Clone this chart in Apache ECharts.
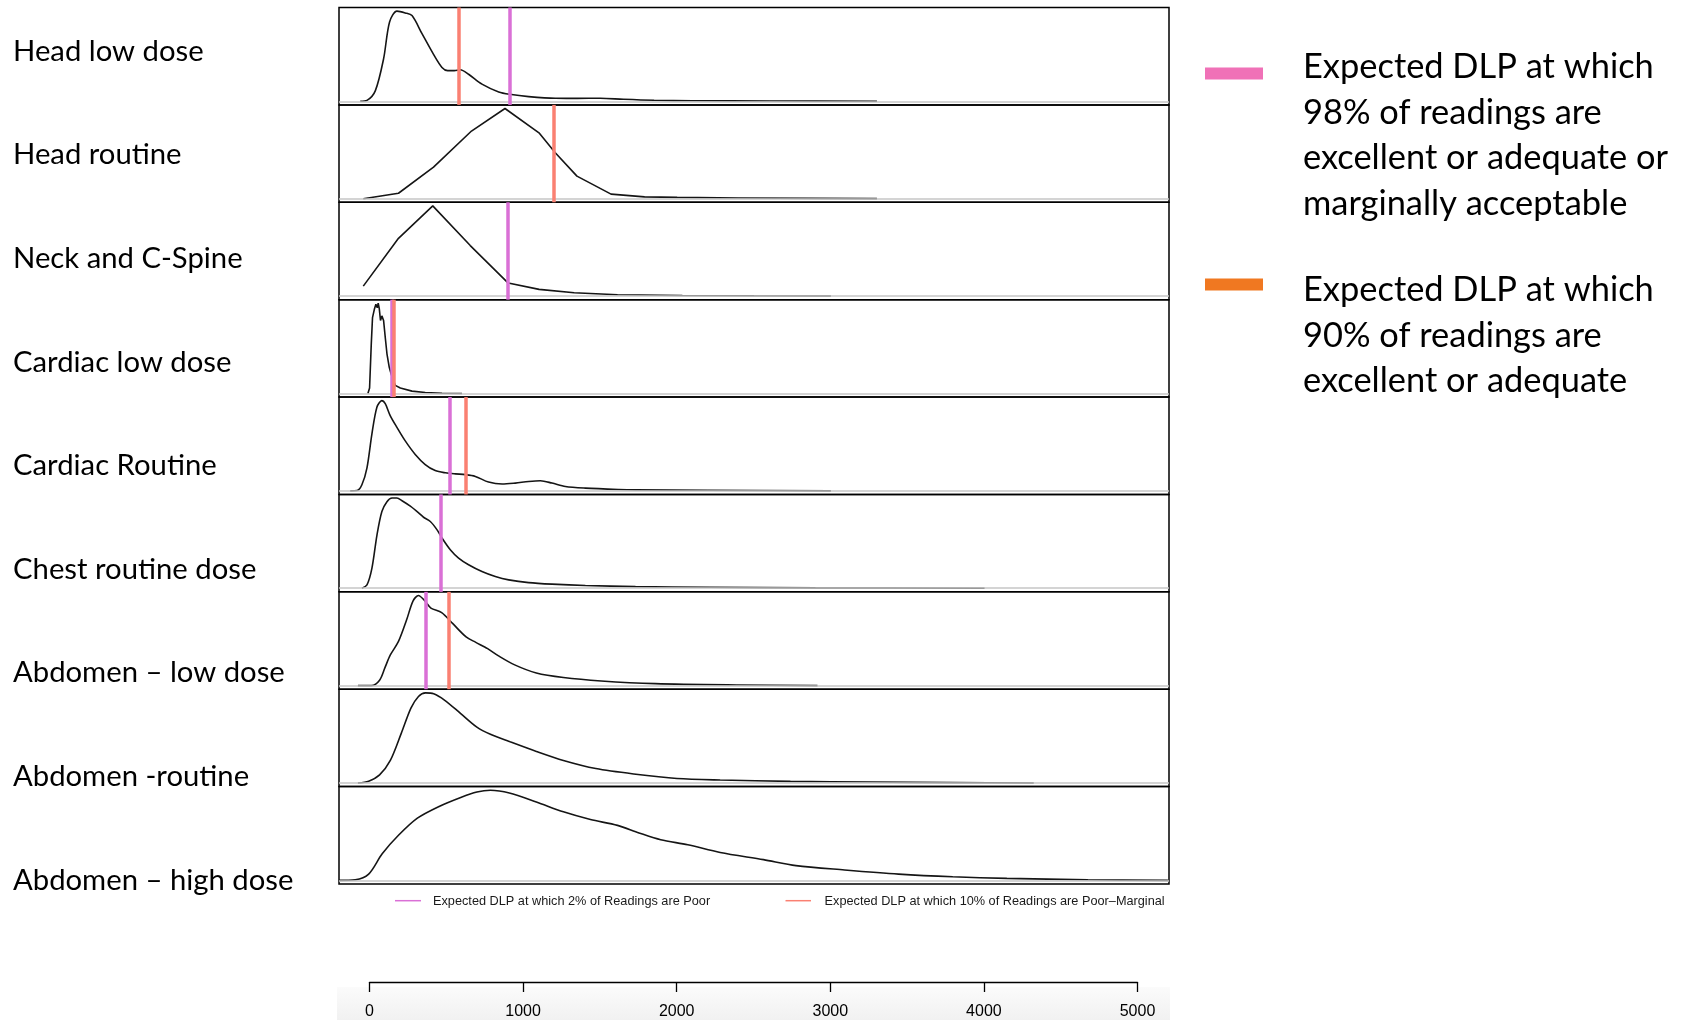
<!DOCTYPE html>
<html>
<head>
<meta charset="utf-8">
<script src="https://cdn.jsdelivr.net/npm/echarts@6/dist/echarts.min.js"></script>
<style>
  html, body { margin: 0; padding: 0; background: #ffffff; }
  #chart { width: 1691px; height: 1020px; }
</style>
</head>
<body>
<div id="chart"></div>
<script>
// ---------------- DATA ----------------
const categories = [
  'Head low dose', 'Head routine', 'Neck and C-Spine', 'Cardiac low dose',
  'Cardiac Routine', 'Chest routine dose', 'Abdomen \u2013 low dose',
  'Abdomen -routine', 'Abdomen \u2013 high dose'
];

// density curves: [DLP, relative density (peak = 100)]
const headLowDose = [[-62,0],[-18,1],[36,11.5],[90,47],[129,88],[177,100],[231,98],[275,95],[340,75],[415,52],[470,37.5],[507,34],[550,34],[589,35],[643,30],[730,19],[839,10.4],[910,7.8],[1034,5.2],[1208,3.3],[1350,3.2],[1500,3.4],[1650,2.2],[1850,1.1],[2100,0.6],[2600,0.3],[3300,0]];
const headRoutine = [[-42,0],[187,6],[415,35],[662,75],[880,100],[1101,73],[1207,51],[1348,25],[1570,5],[1788,2],[2000,1.4],[2400,0.8],[2900,0.3],[3300,0]];
const neckCSpine = [[-42,11],[187,64],[410,100],[654,56],[901,14.4],[1102,7.4],[1330,3.7],[1612,1.5],[2034,0.7],[2500,0.3],[3000,0]];
const cardiacLowDose = [[-12,0],[-1,6],[10,55],[18,84],[31,94],[40,99],[49,95],[55,100],[62,94],[70,81],[79,86],[90,81],[101,62],[112,44],[127,29],[140,21],[166,9],[199,6],[275,2.6],[361,1.1],[470,0.3],[600,0]];
const cardiacRoutine = [[-127,0],[-83,0.3],[-51,6.7],[-18,25.5],[14,63],[47,93],[79,100],[101,96.6],[133,83.5],[177,70.4],[231,55.4],[296,40.4],[361,29.2],[426,22.5],[492,20],[557,18.8],[622,18],[687,16],[773,9.7],[861,7.5],[947,8.6],[1034,10.4],[1110,11.2],[1186,8.6],[1273,4.8],[1403,3],[1620,1.5],[1729,1.1],[2200,0.6],[3000,0]];
const chestRoutine = [[-51,0],[-18,3.7],[14,22],[47,59],[79,85],[112,96],[145,100],[177,100],[210,97],[264,91],[318,83.6],[350,78.7],[394,74],[437,65],[470,55.7],[524,42.7],[578,33.4],[643,26],[730,18.5],[817,13],[904,9.3],[1034,6.2],[1186,4.5],[1403,3],[1729,1.8],[2210,1.1],[2900,0.4],[4000,0]];
const abdomenLowDose = [[-77,0],[11,0],[64,6],[99,20],[134,34],[187,49],[240,73],[282,94],[317,100],[353,95],[398,86],[468,81],[539,69],[627,54],[690,48],[767,41],[838,33],[943,23],[1084,14],[1260,9],[1506,5.2],[1858,2.2],[2386,0.7],[2913,0]];
const abdomenRoutine = [[-77,0],[-7,2],[64,9],[134,25],[205,55],[268,83],[317,96],[363,100],[416,99],[486,92],[592,77],[697,62],[785,54],[908,46],[1084,35],[1260,25],[1471,16],[1717,10],[1999,5],[2280,3.3],[2737,1.8],[3265,1.1],[3793,0.4],[4320,0]];
const abdomenHighDose = [[-200,0],[-94,0.7],[-7,7],[81,29.5],[187,50],[310,69],[451,82],[592,92],[697,98],[785,100],[908,97],[1084,87],[1260,76],[1436,67.5],[1612,61],[1752,52.6],[1893,45],[2069,39.5],[2280,31],[2562,23],[2773,16.4],[3089,11.6],[3441,7],[3793,4],[4145,2.2],[4672,0.7],[5193,0]];

const densities = [headLowDose, headRoutine, neckCSpine, cardiacLowDose, cardiacRoutine,
                   chestRoutine, abdomenLowDose, abdomenRoutine, abdomenHighDose];

// thresholds (DLP), null = not shown
const poor2Threshold          = [910, null, 900, 140, 518, 465, 363, null, null];
const poorMarginal10Threshold = [582, 1200, null, 153, 626, null, 512, null, null];

const axisTicks = [0, 1000, 2000, 3000, 4000, 5000];

const rLegendLabels = [
  'Expected DLP at which 2% of Readings are Poor',
  'Expected DLP at which 10% of Readings are Poor\u2013Marginal'
];
const sideLegendLabels = [
  'Expected DLP at which\n98% of readings are\nexcellent or adequate or\nmarginally acceptable',
  'Expected DLP at which\n90% of readings are\nexcellent or adequate'
];

// ---------------- LAYOUT / STYLE ----------------
const ORCHID = '#DA70D6', SALMON = '#FA8072';
const LEG_PINK = '#F071B7', LEG_ORANGE = '#F07821';
const FRAME_L = 339, FRAME_W = 830, FRAME_T = 7.5, FRAME_B = 884;
const PANEL_H = (FRAME_B - FRAME_T) / categories.length;
const angularPanels = new Set([1, 2, 3]);

function fitSize(text, family, target) {
  const ctx = document.createElement('canvas').getContext('2d');
  ctx.font = '100px ' + family;
  return 100 * target / ctx.measureText(text).width;
}
const LABEL_FONT = 'Lato';
const labelSize = (fitSize(categories[0], LABEL_FONT, 191) +
                   fitSize(categories[5], LABEL_FONT, 242.5) +
                   fitSize(categories[8], LABEL_FONT, 281.5)) / 3;
const legendSize = (fitSize('excellent or adequate or', LABEL_FONT, 369.5) +
                    fitSize('marginally acceptable', LABEL_FONT, 330) +
                    fitSize('Expected DLP at which', LABEL_FONT, 341)) / 3;
const R_FONT = '"Liberation Sans"';
const rSize = (fitSize(rLegendLabels[0], R_FONT, 277.4) +
               fitSize(rLegendLabels[1], R_FONT, 340.7)) / 2;

const grids = [], xAxes = [], yAxes = [], series = [];
categories.forEach((name, i) => {
  grids.push({
    left: FRAME_L, width: FRAME_W, top: FRAME_T + i * PANEL_H, height: PANEL_H,
    show: true, borderColor: '#000', borderWidth: 1.5, backgroundColor: 'transparent',
    containLabel: false, outerBoundsMode: 'none'
  });
  xAxes.push({ gridIndex: i, type: 'value', min: -200, max: 5200, show: false });
  yAxes.push({ gridIndex: i, type: 'value', min: -4, max: 104, show: false });

  // zero line
  series.push({
    type: 'line', name: name + ' zero', xAxisIndex: i, yAxisIndex: i, data: [],
    z: 1, silent: true, animation: false,
    markLine: {
      silent: true, animation: false, symbol: ['none', 'none'], label: { show: false },
      lineStyle: { color: '#c6c6c6', width: 1.5, type: 'solid' },
      emphasis: { disabled: true },
      data: [{ yAxis: 0 }]
    }
  });
  // density curve
  series.push({
    type: 'line', name: name, xAxisIndex: i, yAxisIndex: i, data: densities[i],
    symbol: 'none', showSymbol: false, smooth: angularPanels.has(i) ? false : 0.3,
    lineStyle: { color: '#151515', width: 1.6 }, z: 2, silent: true, animation: false
  });
  // threshold lines
  const marks = [];
  if (poor2Threshold[i] != null) marks.push({ xAxis: poor2Threshold[i], lineStyle: { color: ORCHID } });
  if (poorMarginal10Threshold[i] != null) marks.push({ xAxis: poorMarginal10Threshold[i], lineStyle: { color: SALMON } });
  series.push({
    type: 'line', name: name + ' thresholds', xAxisIndex: i, yAxisIndex: i, data: [],
    z: 3, silent: true, animation: false,
    markLine: {
      silent: true, animation: false, symbol: ['none', 'none'], label: { show: false },
      lineStyle: { width: 3.5, type: 'solid' }, emphasis: { disabled: true },
      data: marks
    }
  });
});

// bottom DLP axis
const AX = categories.length;
grids.push({ left: 369.5, width: 768, top: 972, height: 10, show: false,
             containLabel: false, outerBoundsMode: 'none' });
xAxes.push({
  gridIndex: AX, type: 'value', min: axisTicks[0], max: axisTicks[axisTicks.length - 1],
  interval: axisTicks[1] - axisTicks[0], position: 'bottom',
  axisLine: { show: true, lineStyle: { color: '#000', width: 1.3 } },
  axisTick: { show: true, inside: false, length: 10, lineStyle: { color: '#000', width: 1.3 } },
  axisLabel: { show: true, margin: 22, fontSize: 16, color: '#000', fontFamily: R_FONT,
               showMinLabel: true, showMaxLabel: true, formatter: v => String(v) },
  splitLine: { show: false }
});
yAxes.push({ gridIndex: AX, type: 'value', min: 0, max: 1, show: false });

// graphics: labels and legends
const graphic = [];
graphic.push({
  type: 'rect', z: -10, silent: true,
  shape: { x: 337, y: 987, width: 833, height: 33 },
  style: { fill: new echarts.graphic.LinearGradient(0, 0, 0, 1, [
    { offset: 0, color: '#fbfbfb' }, { offset: 1, color: '#f1f1f1' }]) }
});
categories.forEach((name, i) => {
  graphic.push({
    type: 'text', silent: true, x: 13, y: 51.3 + i * 103.6,
    style: { text: name, fontFamily: LABEL_FONT, fontSize: labelSize, fill: '#000',
             align: 'left', verticalAlign: 'middle' }
  });
});
// R-style legend under the panels
const rLegX = [[395, 421, 433], [785.5, 811, 824.6]];
const rLegColors = [ORCHID, SALMON];
rLegendLabels.forEach((t, k) => {
  graphic.push({ type: 'line', silent: true,
    shape: { x1: rLegX[k][0], y1: 900.7, x2: rLegX[k][1], y2: 900.7 },
    style: { stroke: rLegColors[k], lineWidth: 1.5 } });
  graphic.push({ type: 'text', silent: true, x: rLegX[k][2], y: 901,
    style: { text: t, fontFamily: R_FONT, fontSize: rSize, fill: '#1a1a1a',
             align: 'left', verticalAlign: 'middle' } });
});
// side legend
const sideY = [[67.5, 44.3], [278.5, 267.5]];
const sideColors = [LEG_PINK, LEG_ORANGE];
sideLegendLabels.forEach((t, k) => {
  graphic.push({ type: 'rect', silent: true,
    shape: { x: 1205, y: sideY[k][0], width: 58, height: 12 },
    style: { fill: sideColors[k] } });
  graphic.push({ type: 'text', silent: true, x: 1303, y: sideY[k][1],
    style: { text: t, fontFamily: LABEL_FONT, fontSize: legendSize, lineHeight: 45.5,
             fill: '#000', align: 'left', verticalAlign: 'top' } });
});

const chart = echarts.init(document.getElementById('chart'), null, { renderer: 'canvas' });
chart.setOption({
  backgroundColor: '#ffffff',
  animation: false,
  grid: grids,
  xAxis: xAxes,
  yAxis: yAxes,
  series: series,
  graphic: graphic
});
</script>
</body>
</html>
